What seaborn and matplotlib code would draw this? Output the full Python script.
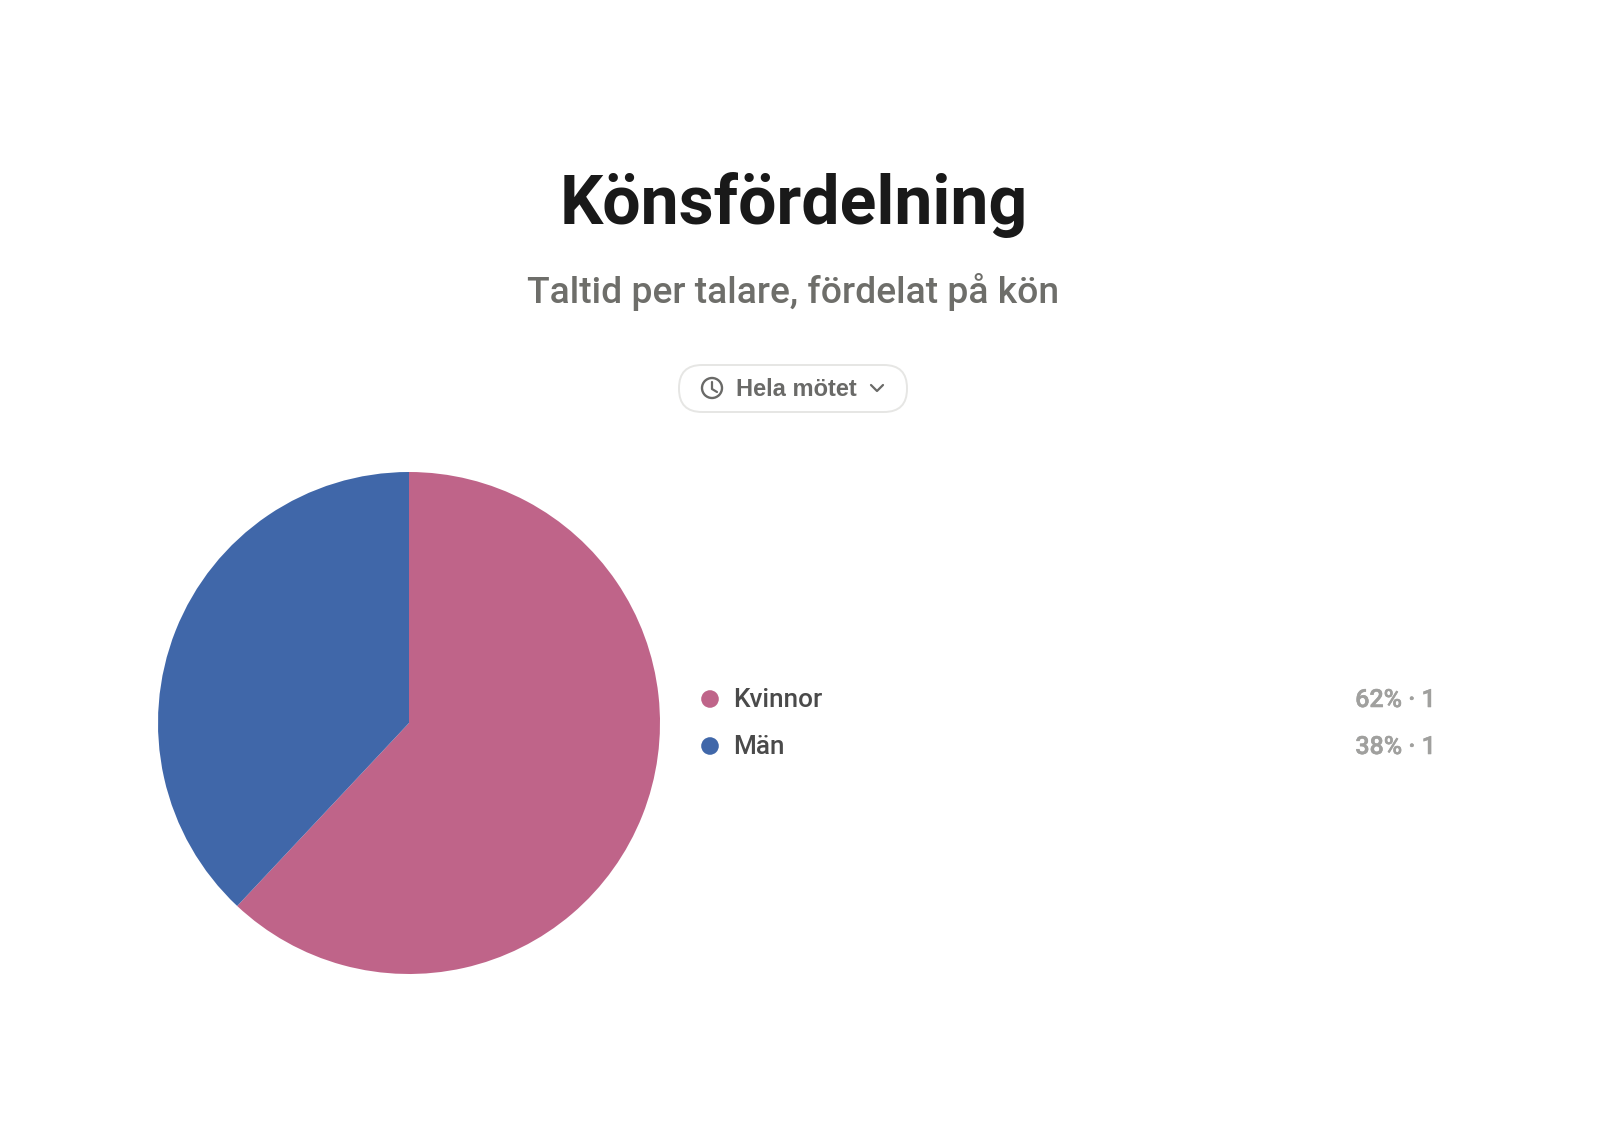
import matplotlib
matplotlib.use("Agg")
import matplotlib.pyplot as plt
import matplotlib.patheffects as pe
from matplotlib.patches import FancyBboxPatch, Circle
import seaborn as sns

# Speaking time per gender
genders = ["Kvinnor", "Män"]
shares = [62, 38]
speakers = [1, 1]
slice_colors = ["#BF6489", "#4067A9"]

title_text = "Könsfördelning"
subtitle_text = "Taltid per talare, fördelat på kön"
filter_text = "Hela mötet"

sns.set_theme(style="white")
plt.rcParams["font.family"] = ["Roboto", "DejaVu Sans"]

W, H = 1600, 1143
fig = plt.figure(figsize=(W / 100, H / 100), dpi=100, facecolor="white")

# Page layer measured in pixels, origin at the top left
page = fig.add_axes([0, 0, 1, 1])
page.set_xlim(0, W)
page.set_ylim(H, 0)
page.axis("off")

page.text(794, 205, title_text, ha="center", va="center", fontsize=49,
          fontweight="bold", color="#191919")
page.text(793, 292, subtitle_text, ha="center", va="center", fontsize=26.8,
          fontweight="medium", color="#6E6E6A")

# Time-range filter pill
page.add_patch(FancyBboxPatch((679 + 23, 365 + 23), 228 - 46, 47 - 46,
                              boxstyle="round,pad=23", fc="white", ec="#E6E6E4", lw=1.4))
page.add_patch(Circle((712, 388), 10, fc="none", ec="#6A6A68", lw=1.7))
page.plot([712, 712, 717], [382, 389, 392], color="#6A6A68", lw=1.6,
          solid_capstyle="round", solid_joinstyle="round")
page.text(796, 389, filter_text, ha="center", va="center", fontsize=17,
          fontweight="bold", color="#6A6A68", family="Liberation Sans")
page.plot([871, 877, 883], [385, 391, 385], color="#6A6A68", lw=1.6,
          solid_capstyle="round", solid_joinstyle="round")

# Pie sized so that radius 1 spans the axes
cx, cy, r = 409, 723, 251
pie_ax = fig.add_axes([(cx - r) / W, 1 - (cy + r) / H, 2 * r / W, 2 * r / H])
pie_ax.pie(shares, colors=slice_colors, startangle=90, counterclock=False, radius=1.0,
           wedgeprops={"linewidth": 0, "edgecolor": "none"})
pie_ax.set_xlim(-1, 1)
pie_ax.set_ylim(-1, 1)

# Legend rows: swatch, name on the left, share and speaker count on the right
row_y = [699, 746]
for y, name, share, count, color in zip(row_y, genders, shares, speakers, slice_colors):
    page.add_patch(Circle((710, y), 8.8, fc=color, ec="none"))
    page.text(733, y + 1, name, ha="left", va="center", fontsize=18.8, fontweight="medium",
              color="#4A4A4A")
    page.text(1436, y + 1, f"{share}% · {count}", ha="right", va="center", fontsize=18,
              fontweight="medium", color="#A0A09E",
              path_effects=[pe.withStroke(linewidth=0.4, foreground="#A0A09E")])

fig.savefig("out.png", dpi=100, facecolor="white")
